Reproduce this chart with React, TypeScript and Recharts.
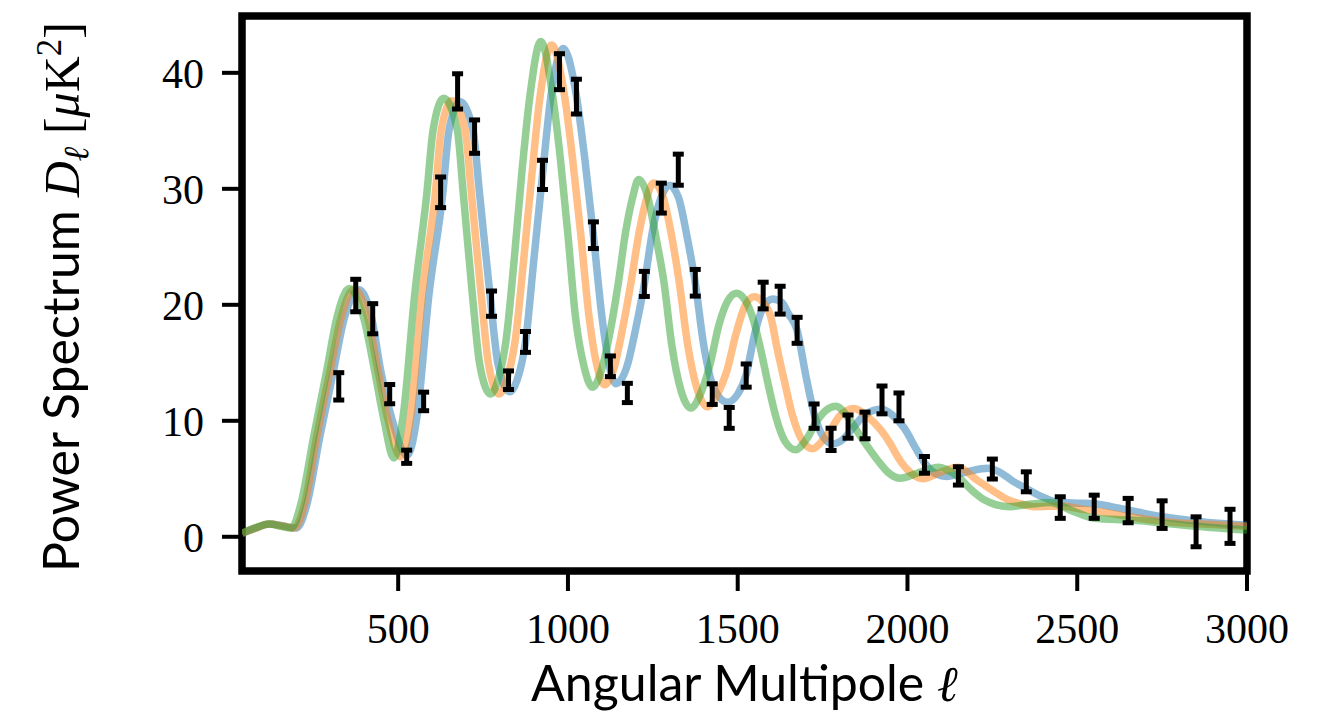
import { ComposedChart, Line, Scatter, ErrorBar, XAxis, YAxis, ReferenceArea } from 'recharts';

// model spectra: [multipole, D_ell]
const blueCurve: [number, number][] = [
  [40, 0.3], [80, 0.75], [120, 1.1], [160, 0.95], [200, 0.75], [232, 2.9], [269, 8.6], [310, 14.4],
  [340, 18.7], [384, 21.3], [423, 18.7], [448, 14.4], [482, 10.1], [526, 7.0], [556, 10.5], [590, 20.7],
  [631, 29.5], [650, 35.1], [682, 37.5], [720, 35.1], [740, 29.5], [772, 20.4], [794, 14.9], [829, 12.5],
  [850, 13.5], [875, 16.8], [900, 24.0], [925, 31.2], [950, 38.0], [986, 42.1], [1025, 38.0], [1050, 32.5],
  [1075, 26.0], [1100, 19.0], [1120, 15.0], [1141, 13.2], [1175, 14.8], [1200, 18.0], [1225, 21.8],
  [1250, 26.5], [1275, 29.3], [1298, 30.3], [1325, 29.3], [1350, 26.0], [1375, 21.9], [1400, 16.5],
  [1430, 12.8], [1470, 11.6], [1500, 12.3], [1525, 14.0], [1550, 17.5], [1575, 19.8], [1603, 20.5],
  [1630, 20.2], [1650, 19.2], [1675, 17.8], [1700, 14.0], [1725, 10.6], [1750, 8.7], [1780, 8.0],
  [1810, 8.4], [1840, 9.4], [1870, 10.4], [1900, 10.9], [1925, 11.0], [1955, 10.5], [1990, 9.4],
  [2025, 7.6], [2055, 6.2], [2085, 5.4], [2115, 5.2], [2150, 5.4], [2190, 5.7], [2235, 5.9], [2270, 5.6],
  [2310, 4.8], [2354, 4.1], [2400, 3.4], [2440, 3.0], [2500, 2.9], [2550, 2.85], [2600, 2.6], [2650, 2.3],
  [2700, 2.0], [2757, 1.7], [2850, 1.35], [2925, 1.15], [3000, 1.0],
];

const orangeCurve: [number, number][] = [
  [40, 0.3], [80, 0.75], [120, 1.1], [160, 0.93], [193, 0.75], [225, 2.9], [260, 8.6], [300, 14.4],
  [330, 18.7], [370, 21.35], [412, 18.7], [440, 14.4], [470, 10.1], [507, 6.9], [537, 10.5], [570, 20.7],
  [609, 29.5], [627, 35.1], [658, 37.6], [697, 35.1], [716, 29.5], [746, 20.4], [766, 14.9], [797, 12.3],
  [820, 13.6], [845, 17.0], [870, 24.0], [893, 31.0], [918, 38.0], [952, 42.4], [990, 38.0], [1014, 32.5],
  [1038, 26.0], [1062, 19.0], [1085, 14.8], [1108, 13.1], [1135, 14.5], [1160, 17.8], [1185, 21.8],
  [1210, 26.3], [1232, 29.2], [1252, 30.5], [1280, 29.3], [1305, 26.0], [1328, 21.9], [1353, 16.5],
  [1382, 12.6], [1411, 11.2], [1440, 12.3], [1470, 14.5], [1495, 17.5], [1520, 19.8], [1548, 20.7],
  [1575, 20.2], [1597, 19.0], [1617, 16.1], [1637, 13.5], [1660, 10.6], [1690, 8.3], [1720, 7.6],
  [1750, 8.3], [1775, 9.3], [1800, 10.4], [1843, 11.05], [1880, 10.4], [1922, 9.2], [1950, 8.0],
  [1971, 6.9], [2010, 5.5], [2045, 5.0], [2100, 5.6], [2150, 6.0], [2200, 5.0], [2250, 4.0], [2295, 3.2],
  [2340, 2.8], [2373, 2.6], [2453, 2.65], [2510, 2.4], [2571, 2.15], [2640, 1.8], [2718, 1.44],
  [2800, 1.2], [2900, 1.05], [3000, 0.9],
];

const greenCurve: [number, number][] = [
  [40, 0.3], [80, 0.8], [120, 1.1], [155, 0.9], [185, 0.75], [214, 2.9], [251, 8.6], [290, 14.4],
  [318, 18.7], [356, 21.4], [400, 18.7], [430, 14.4], [458, 10.1], [487, 6.8], [515, 10.5], [548, 20.7],
  [584, 29.5], [603, 35.1], [634, 37.8], [674, 35.1], [692, 29.5], [720, 20.4], [740, 14.9], [772, 12.3],
  [795, 13.6], [818, 17.0], [842, 24.0], [863, 31.0], [888, 38.0], [920, 42.7], [955, 38.0], [978, 32.5],
  [1000, 26.0], [1022, 19.0], [1048, 14.6], [1072, 12.9], [1100, 14.5], [1125, 17.8], [1148, 21.8],
  [1170, 26.3], [1190, 29.2], [1208, 30.8], [1235, 29.3], [1258, 26.0], [1283, 21.9], [1306, 16.5],
  [1333, 12.6], [1362, 11.1], [1390, 12.3], [1418, 14.8], [1445, 18.3], [1470, 20.3], [1496, 21.0],
  [1522, 20.4], [1545, 18.8], [1568, 16.1], [1590, 13.1], [1612, 10.4], [1640, 8.2], [1671, 7.5],
  [1700, 8.3], [1735, 10.06], [1760, 10.9], [1789, 11.25], [1825, 10.3], [1863, 8.6], [1912, 6.6],
  [1945, 5.5], [1978, 5.05], [2030, 5.5], [2092, 6.0], [2148, 5.2], [2190, 4.0], [2226, 3.2], [2300, 2.6],
  [2360, 2.8], [2420, 2.95], [2480, 2.3], [2550, 1.6], [2660, 1.44], [2815, 1.0], [3000, 0.58],
];

// binned measurements with 1-sigma errors
const ellObs = [325, 375, 425, 475, 525, 575, 625, 675, 725, 775, 825, 875, 925, 975, 1025, 1075, 1125, 1175,
  1225, 1275, 1325, 1375, 1425, 1475, 1525, 1575, 1625, 1675, 1725, 1775, 1825, 1875, 1925, 1975, 2050, 2150,
  2250, 2350, 2450, 2550, 2650, 2750, 2850, 2950];
const dObs = [12.97, 20.8, 18.8, 12.3, 6.9, 11.67, 29.7, 38.4, 34.5, 20.1, 13.5, 16.8, 31.2, 40.1, 37.95, 26.0,
  14.7, 12.4, 21.8, 29.2, 31.65, 21.9, 12.3, 10.25, 13.9, 20.8, 20.4, 17.8, 10.4, 8.4, 9.5, 9.6, 11.8, 11.2, 6.2,
  5.25, 5.84, 4.74, 2.52, 2.59, 2.26, 1.91, 0.43, 0.9];
const errObs = [1.18, 1.4, 1.3, 0.83, 0.57, 0.8, 1.32, 1.52, 1.44, 1.09, 0.8, 0.9, 1.26, 1.55, 1.5, 1.15, 0.89,
  0.83, 1.08, 1.29, 1.34, 1.15, 0.89, 0.9, 1.0, 1.15, 1.2, 1.12, 1.05, 0.96, 1.0, 1.15, 1.2, 1.2, 0.72, 0.79,
  0.86, 0.86, 0.93, 1.0, 1.05, 1.19, 1.29, 1.47];

const xTicks = [500, 1000, 1500, 2000, 2500, 3000];
const yTicks = [0, 10, 20, 30, 40];

const toRows = (c: [number, number][]) => c.map(([l, d]) => ({ l, d }));
const obsRows = ellObs.map((l, i) => ({ l, d: dObs[i], err: errObs[i] }));

const X_DOMAIN: [number, number] = [40, 3000];
const Y_DOMAIN: [number, number] = [-2.95, 44.9];
const SANS = 'Lato, "Liberation Sans", sans-serif';
const SERIF = '"Liberation Serif", serif';

const XTitle = () => (
  <text x={744.5} y={701} textAnchor="middle" fontFamily={SANS} fontSize={50} fill="#000">
    Angular Multipole <tspan fontFamily={SERIF} fontStyle="italic">ℓ</tspan>
  </text>
);

const YTitle = () => (
  <text x={79} y={297} transform="rotate(-90 79 297)" textAnchor="middle" fontSize={50} fill="#000">
    <tspan fontFamily={SANS}>Power Spectrum </tspan>
    <tspan fontFamily={SERIF} fontStyle="italic">D</tspan>
    <tspan fontFamily={SERIF} fontStyle="italic" fontSize={35} dy={9}>ℓ</tspan>
    <tspan fontFamily={SERIF} dy={-9}> [</tspan>
    <tspan fontFamily={SERIF} fontStyle="italic">μ</tspan>
    <tspan fontFamily={SERIF}>K</tspan>
    <tspan fontFamily={SERIF} fontSize={35} dy={-18}>2</tspan>
    <tspan fontFamily={SERIF} dy={18}>]</tspan>
  </text>
);

export default function App() {
  const tickStyle = { fontFamily: SERIF, fontSize: 42, fill: '#000' };
  return (
    <div style={{ position: 'absolute', left: 0, top: 0, background: '#fff' }}>
      {/* bold error bars, as in the source figure */}
      <style>{'.recharts-errorBar line, .recharts-errorBars line { stroke-width: 5px !important; stroke: #000 !important; }'}</style>
      <ComposedChart width={1328} height={715} margin={{ top: 16, right: 81, left: 0, bottom: 0 }}>
        <XAxis
          type="number"
          dataKey="l"
          domain={X_DOMAIN}
          allowDataOverflow
          ticks={xTicks}
          height={144}
          axisLine={false}
          tickSize={20}
          tickMargin={22}
          tickLine={{ stroke: '#000', strokeWidth: 4 }}
          tick={tickStyle}
          label={{ content: () => <XTitle /> }}
        />
        <YAxis
          type="number"
          dataKey="d"
          domain={Y_DOMAIN}
          allowDataOverflow
          ticks={yTicks}
          width={242}
          axisLine={false}
          tickSize={20}
          tickMargin={18}
          tickLine={{ stroke: '#000', strokeWidth: 4 }}
          tick={tickStyle}
          label={{ content: () => <YTitle /> }}
        />
        <Line data={toRows(blueCurve)} dataKey="d" type="monotone" stroke="#1f77b4" strokeOpacity={0.5}
          strokeWidth={7.5} dot={false} activeDot={false} isAnimationActive={false} />
        <Line data={toRows(orangeCurve)} dataKey="d" type="monotone" stroke="#ff7f0e" strokeOpacity={0.5}
          strokeWidth={7.5} dot={false} activeDot={false} isAnimationActive={false} />
        <Line data={toRows(greenCurve)} dataKey="d" type="monotone" stroke="#2ca02c" strokeOpacity={0.5}
          strokeWidth={7.5} dot={false} activeDot={false} isAnimationActive={false} />
        <Scatter data={obsRows} dataKey="d" shape={() => null} isAnimationActive={false}>
          <ErrorBar dataKey="err" direction="y" width={5.5} stroke="#000" strokeWidth={5} isAnimationActive={false} />
        </Scatter>
        <ReferenceArea x1={X_DOMAIN[0]} x2={X_DOMAIN[1]} y1={Y_DOMAIN[0]} y2={Y_DOMAIN[1]}
          fill="none" fillOpacity={0} stroke="#000" strokeWidth={7.5} ifOverflow="visible" />
      </ComposedChart>
    </div>
  );
}
